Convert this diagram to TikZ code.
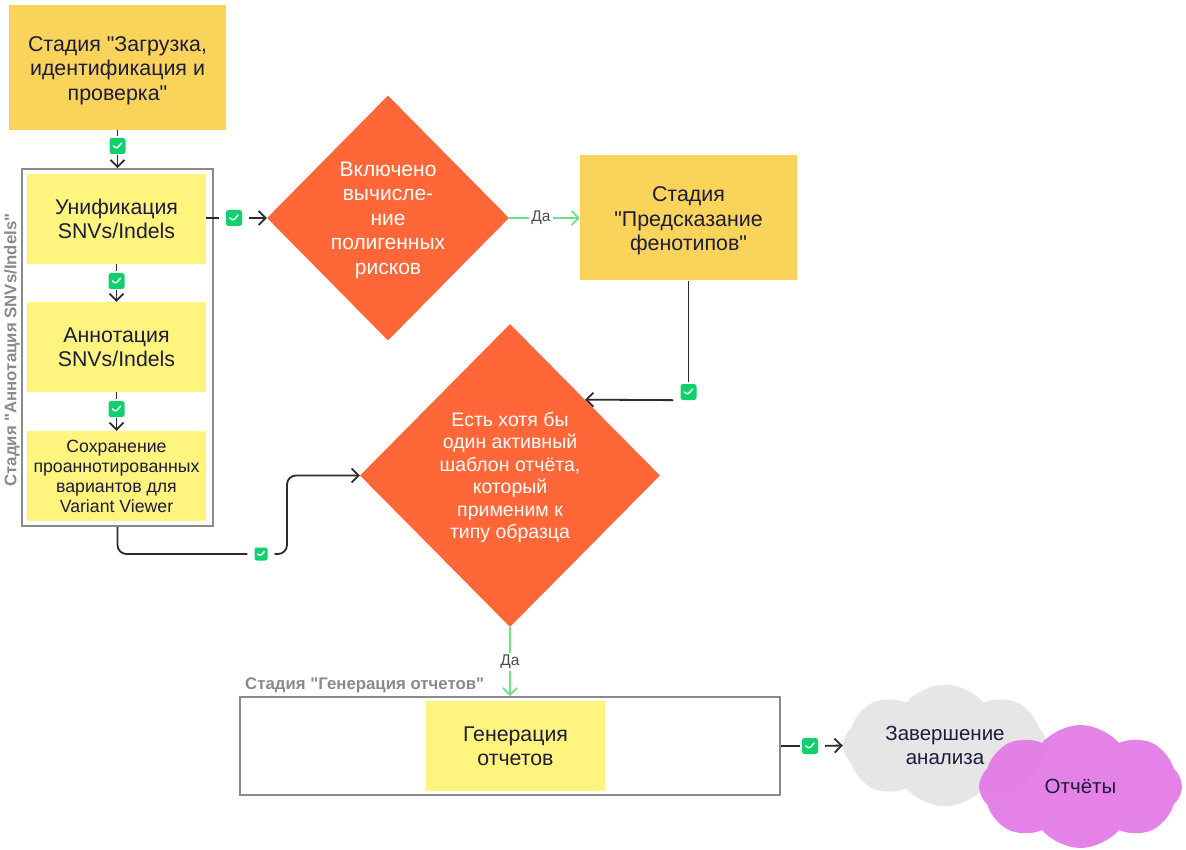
\documentclass[tikz,border=0pt]{standalone}
\usepackage{fontspec}
\setmainfont{Liberation Sans}[Ligatures=TeXOff]
\usetikzlibrary{arrows.meta, shapes.geometric, shapes.symbols}

\definecolor{inktext}{HTML}{1C1C3C}
\definecolor{stageamber}{HTML}{FAD45A}
\definecolor{tasklemon}{HTML}{FFF47D}
\definecolor{forkorange}{HTML}{FF6739}
\definecolor{okgreen}{HTML}{0FD06A}
\definecolor{yesgreen}{HTML}{6FE08A}
\definecolor{framegray}{HTML}{8A8A8A}
\definecolor{wiredark}{HTML}{2B2B2B}
\definecolor{cloudgray}{HTML}{E6E6E6}
\definecolor{cloudpink}{HTML}{E27AE6}

\tikzset{
  stagebox/.style={rectangle, fill=stageamber, minimum width=217pt, minimum height=125pt},
  stagetext/.style={text=inktext, align=center, font=\fontsize{21.4}{24.5}\selectfont},
  taskbox/.style={rectangle, fill=tasklemon, text=inktext, minimum width=179pt, minimum height=90pt, align=center, font=\fontsize{21.3}{24}\selectfont},
  framebox/.style={rectangle, draw=framegray, line width=1.8pt, fill=white},
  forkbox/.style={diamond, fill=forkorange, inner sep=0pt},
  forktext/.style={text=white, align=center, font=\fontsize{21}{24.5}\selectfont},
  framelabel/.style={text=framegray, font=\fontsize{16.8}{18}\selectfont\bfseries},
  badge/.style={rectangle, fill=okgreen, rounded corners=2.5pt, inner sep=0pt, minimum size=#1 pt,
    path picture={\draw[white, line width=1.5pt, line cap=round, shift={(path picture bounding box.center)}, x=#1*0.0625pt, y=#1*0.0625pt] (-4,0) -- (-1,-2.8) -- (4,2.8);}},
  wire/.style={draw=wiredark, line width=1.8pt},
  towire/.style={wire, shorten >=#1pt},
  towire/.default=7,
  fromwire/.style={wire, shorten <=#1pt, -{Straight Barb[length=7pt,width=14pt]}},
  fromwire/.default=7,
  yeswire/.style={draw=yesgreen, line width=1.8pt, -{Straight Barb[length=7pt,width=14pt]}},
  yeslabel/.style={fill=white, text=black!70, inner sep=2pt, font=\fontsize{15.5}{17}\selectfont},
  endcloud/.style={cloud, cloud puffs=8, cloud puff arc=100, aspect=1.7, inner sep=0pt, text=inktext, align=center, font=\fontsize{20.5}{23.5}\selectfont}
}

\begin{document}
\begin{tikzpicture}[x=1pt, y=-1pt]
  \useasboundingbox (0,0) rectangle (1186,850);

  % Frames of the stages
  \node[framebox, minimum width=191pt, minimum height=357pt] (annotframe) at (117.5,347.5) {};
  \node[framebox, minimum width=540pt, minimum height=98pt] (reportframe) at (510,746) {};
  \node[framelabel, rotate=90] (annotlabel) at (12,350) {Стадия "Аннотация SNVs/Indels"};
  \node[framelabel, anchor=west, inner sep=0pt] (reportlabel) at (245,685) {Стадия "Генерация отчетов"};

  % Stages
  \node[stagebox] (upload) at (117.5,67.5) {};
  \node[stagetext] (uploadtext) at (117.5,70.5) {Стадия "Загрузка,\\идентификация и\\проверка"};
  \node[stagebox] (phenotype) at (688.5,218) {};
  \node[stagetext] (phenotypetext) at (688.5,221) {Стадия\\"Предсказание\\фенотипов"};

  % Tasks
  \node[taskbox] (unify) at (116.5,219) {Унификация\\SNVs/Indels};
  \node[taskbox] (annotate) at (116.5,347) {Аннотация\\SNVs/Indels};
  \node[taskbox, font=\fontsize{17.7}{20}\selectfont] (save) at (116.5,476) {Сохранение\\проаннотированных\\вариантов для\\Variant Viewer};
  \node[taskbox] (generate) at (515.5,746) {Генерация\\отчетов};

  % Decisions
  \node[forkbox, minimum width=242pt, minimum height=245pt] (riskfork) at (388,218) {};
  \node[forktext] (risktext) at (388,220) {Включено\\вычисле-\\ние\\полигенных\\рисков};
  \node[forkbox, minimum width=300pt, minimum height=303pt] (templatefork) at (510,475.5) {};
  \node[forktext, font=\fontsize{19.5}{22.5}\selectfont] (templatetext) at (510,477.5) {Есть хотя бы\\один активный\\шаблон отчёта,\\который\\применим к\\типу образца};

  % Clouds
  \node[endcloud, fill=cloudgray, minimum width=204pt, minimum height=118pt] (finish) at (945,745.5) {Завершение\\анализа};
  \node[endcloud, fill=cloudpink, fill opacity=.94, text opacity=1, minimum width=203pt, minimum height=123pt] (reports) at (1080.5,786.5) {Отчёты};

  % Badges
  \node[badge=16] (okupload) at (117.5,146) {};
  \node[badge=16] (okunify) at (116.5,281) {};
  \node[badge=16] (okannotate) at (116.5,409) {};
  \node[badge=16] (okrisk) at (234,218) {};
  \node[badge=13] (okframe) at (261,554) {};
  \node[badge=16] (okphenotype) at (688.5,392) {};
  \node[badge=16] (okreport) at (810,746) {};
  \coordinate (riseframe) at (287,475.5);

  % Connectors
  \draw[towire=2] (upload.south) -- (okupload.north);
  \draw[fromwire=1] (okupload.south) -- (annotframe.north -| okupload);
  \draw[towire=2] (unify.south) -- (okunify.north);
  \draw[fromwire=1] (okunify.south) -- (annotate.north);
  \draw[towire=2] (annotate.south) -- (okannotate.north);
  \draw[fromwire=1] (okannotate.south) -- (save.north);
  \draw[towire] (unify.east |- okrisk) -- (okrisk.west);
  \draw[fromwire] (okrisk.east) -- (riskfork.west);
  \draw[towire, rounded corners=9pt] (annotframe.south) |- (okframe.west);
  \draw[fromwire, rounded corners=9pt] (okframe.east) -| (riseframe) -- (templatefork.west);
  \draw[towire=2] (phenotype.south) -- (okphenotype.north);
  \draw[fromwire] (okphenotype.south west) -- (templatefork.north east);
  \draw[towire=2] (reportframe.east) -- (okreport.west);
  \draw[fromwire] (okreport.east) -- (finish.west);
  \draw[yeswire] (riskfork.east) -- node[yeslabel, pos=.45] (yesrisk) {Да} (phenotype.west);
  \draw[yeswire] (templatefork.south) -- node[yeslabel, pos=.5] (yestemplate) {Да} (reportframe.north);
\end{tikzpicture}
\end{document}
